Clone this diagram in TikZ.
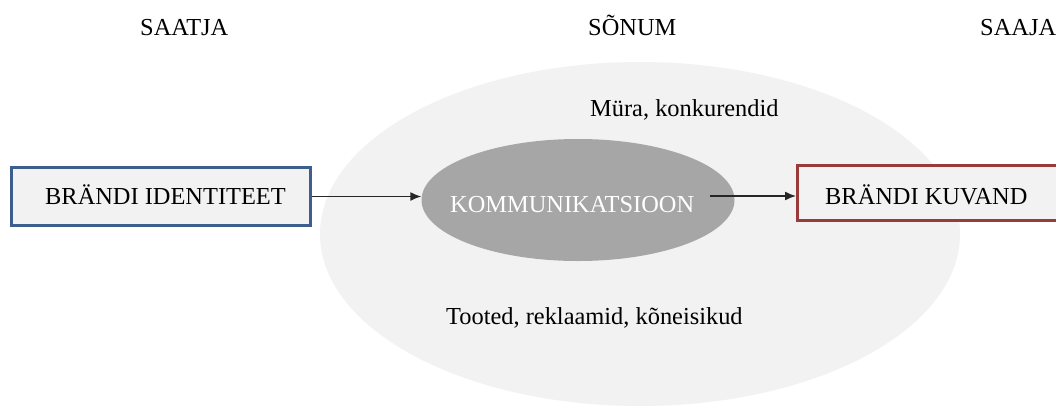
\documentclass[tikz,border=0pt]{standalone}
\usepackage{fontspec}
\setmainfont{Liberation Serif}
\usetikzlibrary{arrows.meta,shapes.geometric}
\definecolor{fieldgray}{HTML}{F2F2F2}
\definecolor{commgray}{HTML}{A6A6A6}
\definecolor{boxfill}{HTML}{F2F2F2}
\definecolor{blueedge}{HTML}{3C5F8E}
\definecolor{rededge}{HTML}{983B39}
\definecolor{arrowgray}{HTML}{262626}
\tikzset{
  txt/.style={font=\fontsize{24.4}{28}\selectfont, inner sep=0pt, anchor=base west, text=black},
  brandbox/.style={rectangle, fill=boxfill, line width=3pt, inner sep=0pt},
  flow/.style={-{Latex[length=11pt,width=9pt]}, line width=1.4pt, arrowgray},
}
\begin{document}
\begin{tikzpicture}[x=1pt,y=-1pt]
\path[use as bounding box, fill=white] (0,0) rectangle (1056,407);
% outer field
\node[ellipse, fill=fieldgray, minimum width=640pt, minimum height=344pt, inner sep=0pt] (field) at (640,234) {};
% communication ellipse
\node[ellipse, fill=commgray, minimum width=313pt, minimum height=122pt, inner sep=0pt] (comm) at (578,200) {};
\node[txt, text=white] (commlabel) at (450,212) {KOMMUNIKATSIOON};
% boxes
\node[brandbox, draw=blueedge, minimum width=299pt, minimum height=58pt] (lbox) at (161,196.5) {};
\node[txt] (lboxlabel) at (45,204) {BRÄNDI IDENTITEET};
\node[brandbox, draw=rededge, minimum width=263pt, minimum height=55pt] (rbox) at (929,193) {};
\node[txt] (rboxlabel) at (825,204) {BRÄNDI KUVAND};
% headings
\node[txt] (saatja) at (140,35) {SAATJA};
\node[txt] (sonum) at (588,35) {SÕNUM};
\node[txt] (saaja) at (980,35) {SAAJA};
% field labels
\node[txt] (mura) at (590,116) {Müra, konkurendid};
\node[txt] (tooted) at (446,324) {Tooted, reklaamid, kõneisikud};
% connectors
\draw[flow] (lbox.east) -- (comm.west |- lbox.east);
\coordinate (commout) at (710,196);
\draw[flow] (commout) -- (rbox.west |- commout);
\end{tikzpicture}
\end{document}
